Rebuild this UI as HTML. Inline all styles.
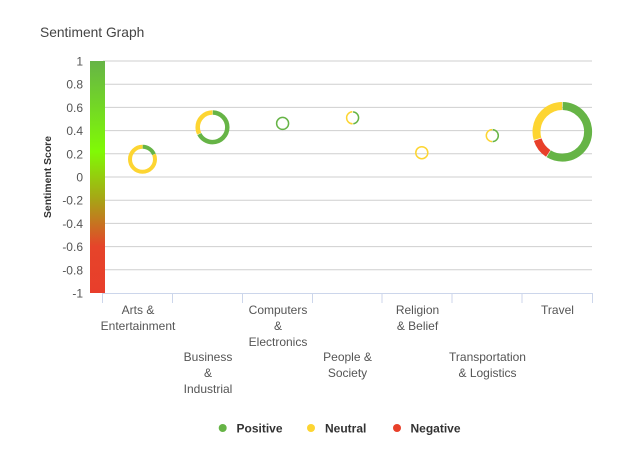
<!DOCTYPE html>
<html><head><meta charset="utf-8"><style>
html,body{margin:0;padding:0;background:#fff;}
svg{display:block;font-family:"Liberation Sans",sans-serif;}
</style></head><body>
<svg width="625" height="465" viewBox="0 0 625 465" xmlns="http://www.w3.org/2000/svg">
<defs>
<linearGradient id="g" x1="0" y1="0" x2="0" y2="1">
<stop offset="0" stop-color="#66b446"/>
<stop offset="0.39" stop-color="#80fa05"/>
<stop offset="0.60" stop-color="#a8a316"/>
<stop offset="0.72" stop-color="#cc6a22"/>
<stop offset="0.80" stop-color="#e6442a"/>
<stop offset="1" stop-color="#e83e2b"/>
</linearGradient>
</defs>
<text x="40" y="37" font-size="13.8" fill="#444">Sentiment Graph</text>
<g stroke="#cfcfcf" stroke-width="1">
<line x1="103" x2="592" y1="61" y2="61"/>
<line x1="103" x2="592" y1="84.2" y2="84.2"/>
<line x1="103" x2="592" y1="107.4" y2="107.4"/>
<line x1="103" x2="592" y1="130.6" y2="130.6"/>
<line x1="103" x2="592" y1="153.8" y2="153.8"/>
<line x1="103" x2="592" y1="177" y2="177"/>
<line x1="103" x2="592" y1="200.2" y2="200.2"/>
<line x1="103" x2="592" y1="223.4" y2="223.4"/>
<line x1="103" x2="592" y1="246.6" y2="246.6"/>
<line x1="103" x2="592" y1="269.8" y2="269.8"/>
</g>
<g stroke="#ccd6eb" stroke-width="1">
<line x1="102" x2="593" y1="293.5" y2="293.5"/>
<line x1="102.5" x2="102.5" y1="293" y2="303"/>
<line x1="172.5" x2="172.5" y1="293" y2="303"/>
<line x1="242.5" x2="242.5" y1="293" y2="303"/>
<line x1="312.5" x2="312.5" y1="293" y2="303"/>
<line x1="382" x2="382" y1="293" y2="303"/>
<line x1="452" x2="452" y1="293" y2="303"/>
<line x1="522" x2="522" y1="293" y2="303"/>
<line x1="592.5" x2="592.5" y1="293" y2="303"/>
</g>
<rect x="90" y="61" width="15" height="232" fill="url(#g)"/>
<g font-size="12" fill="#555" text-anchor="end">
<text x="83" y="65.5">1</text>
<text x="83" y="88.7">0.8</text>
<text x="83" y="111.9">0.6</text>
<text x="83" y="135.1">0.4</text>
<text x="83" y="158.3">0.2</text>
<text x="83" y="181.5">0</text>
<text x="83" y="204.7">-0.2</text>
<text x="83" y="227.9">-0.4</text>
<text x="83" y="251.1">-0.6</text>
<text x="83" y="274.3">-0.8</text>
<text x="83" y="297.5">-1</text>
</g>
<text transform="translate(51,177) rotate(-90)" text-anchor="middle" font-size="10.4" font-weight="bold" fill="#333">Sentiment Score</text>
<g font-size="12" fill="#555" text-anchor="middle">
<text x="138" y="314">Arts &amp;</text>
<text x="138" y="330">Entertainment</text>
<text x="208" y="361">Business</text>
<text x="208" y="377">&amp;</text>
<text x="208" y="393">Industrial</text>
<text x="278" y="314">Computers</text>
<text x="278" y="330">&amp;</text>
<text x="278" y="346">Electronics</text>
<text x="347.5" y="361">People &amp;</text>
<text x="347.5" y="377">Society</text>
<text x="417.5" y="314">Religion</text>
<text x="417.5" y="330">&amp; Belief</text>
<text x="487.5" y="361">Transportation</text>
<text x="487.5" y="377">&amp; Logistics</text>
<text x="557.5" y="314">Travel</text>
</g>
<!-- Arts r=12.5 C=78.54 -->
<g fill="none" transform="rotate(-90 142.5 159.3)">
<circle cx="142.5" cy="159.3" r="12.5" stroke="#66b446" stroke-width="4" stroke-dasharray="14.2 100" stroke-dashoffset="-0.2"/>
<circle cx="142.5" cy="159.3" r="12.5" stroke="#fdd532" stroke-width="4" stroke-dasharray="63.8 100" stroke-dashoffset="-14.6"/>
</g>
<!-- Business r=14.8 C=92.99 -->
<g fill="none" transform="rotate(-90 212.5 127.3)">
<circle cx="212.5" cy="127.3" r="14.8" stroke="#66b446" stroke-width="4.5" stroke-dasharray="62.3 200" stroke-dashoffset="-0.3"/>
<circle cx="212.5" cy="127.3" r="14.8" stroke="#fdd532" stroke-width="4.5" stroke-dasharray="29.8 200" stroke-dashoffset="-63"/>
</g>
<!-- Computers -->
<circle cx="282.6" cy="123.4" r="6" fill="none" stroke="#66b446" stroke-width="1.5"/>
<!-- People r=6 C=37.7 -->
<g fill="none" transform="rotate(-90 352.6 117.8)">
<circle cx="352.6" cy="117.8" r="6" stroke="#66b446" stroke-width="1.5" stroke-dasharray="17.5 100" stroke-dashoffset="-0.5"/>
<circle cx="352.6" cy="117.8" r="6" stroke="#fdd532" stroke-width="1.5" stroke-dasharray="18.5 100" stroke-dashoffset="-18.7"/>
</g>
<!-- Religion -->
<circle cx="421.8" cy="152.7" r="6" fill="none" stroke="#fdd532" stroke-width="1.5"/>
<!-- Transportation -->
<g fill="none" transform="rotate(-90 492.3 135.6)">
<circle cx="492.3" cy="135.6" r="6" stroke="#66b446" stroke-width="1.5" stroke-dasharray="18 100" stroke-dashoffset="-0.4"/>
<circle cx="492.3" cy="135.6" r="6" stroke="#fdd532" stroke-width="1.5" stroke-dasharray="18.4 100" stroke-dashoffset="-18.9"/>
</g>
<!-- Travel r=25.8 C=162.1 -->
<g fill="none" transform="rotate(-90 562.3 131.8)">
<circle cx="562.3" cy="131.8" r="25.8" stroke="#66b446" stroke-width="8" stroke-dasharray="94.8 300" stroke-dashoffset="-0.4"/>
<circle cx="562.3" cy="131.8" r="25.8" stroke="#e8402a" stroke-width="8" stroke-dasharray="17.6 300" stroke-dashoffset="-95.8"/>
<circle cx="562.3" cy="131.8" r="25.8" stroke="#fdd532" stroke-width="8" stroke-dasharray="47.5 300" stroke-dashoffset="-114.2"/>
</g>
<!-- Legend -->
<circle cx="222.7" cy="428" r="4" fill="#66b446"/>
<circle cx="311" cy="428" r="4" fill="#fdd532"/>
<circle cx="397" cy="428" r="4" fill="#e8402a"/>
<g font-size="12" font-weight="bold" fill="#333">
<text x="236.5" y="432.3">Positive</text>
<text x="325" y="432.3">Neutral</text>
<text x="410.5" y="432.3">Negative</text>
</g>
</svg>
</body></html>
